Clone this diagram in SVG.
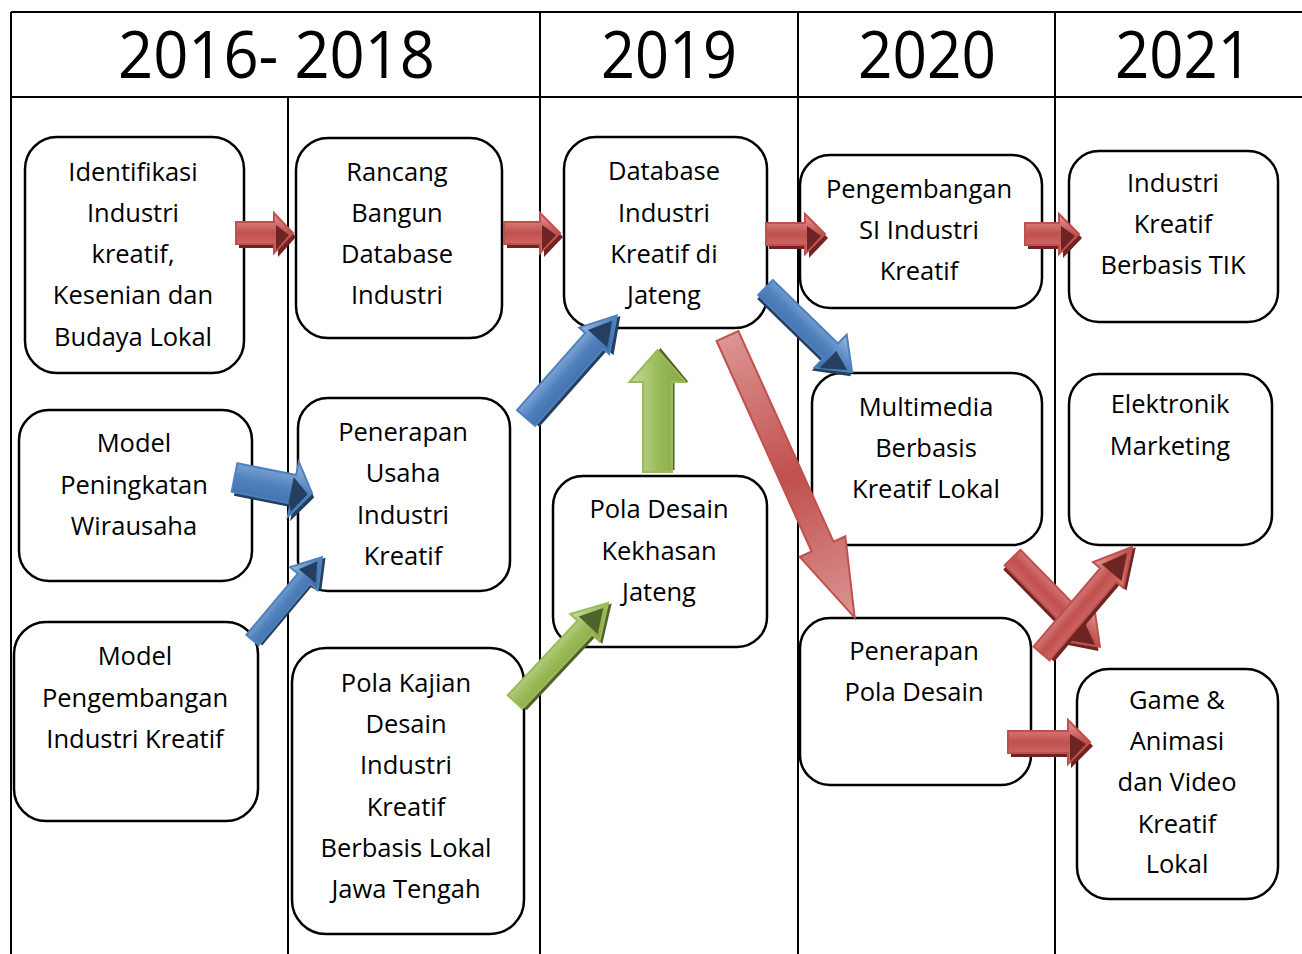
<svg xmlns="http://www.w3.org/2000/svg" width="1302" height="954" viewBox="0 0 1302 954">
<style>
.grid{stroke:#000;stroke-width:2;fill:none}
.box{fill:#fff;stroke:#000;stroke-width:2.5}
.t{font-family:"Open Sans","Noto Sans",sans-serif;font-size:25.5px;fill:#000;text-anchor:middle}
.h{font-family:"Open Sans","Noto Sans",sans-serif;font-size:66px;fill:#000;text-anchor:middle}
.rs{fill:#6e2422}.rm{fill:url(#gr);stroke:#c0504d;stroke-width:2}
.bs{fill:#243f60}.bm{fill:url(#gb);stroke:#4f81bd;stroke-width:2}
.gs{fill:#4f6228}.gm{fill:url(#gg);stroke:#9bbb59;stroke-width:2}
</style>
<defs>
<linearGradient id="gr" x1="0" y1="0" x2="0" y2="1"><stop offset="0" stop-color="#e39b99"/><stop offset="0.5" stop-color="#c0504d"/><stop offset="1" stop-color="#d77a77"/></linearGradient>
<linearGradient id="gr2" x1="0" y1="0" x2="1" y2="0"><stop offset="0" stop-color="#dc9593"/><stop offset="0.5" stop-color="#c0504d"/><stop offset="1" stop-color="#dc9593"/></linearGradient>
<linearGradient id="gb" x1="0" y1="0" x2="0" y2="1"><stop offset="0" stop-color="#9dbbe3"/><stop offset="0.5" stop-color="#4f81bd"/><stop offset="1" stop-color="#3b6aa3"/></linearGradient>
<linearGradient id="gg" x1="0" y1="0" x2="0" y2="1"><stop offset="0" stop-color="#c8dca3"/><stop offset="0.5" stop-color="#9bbb59"/><stop offset="1" stop-color="#86a648"/></linearGradient>
</defs>
<g id="grid">
<line class="grid" x1="11" y1="12" x2="1302" y2="12"/>
<line class="grid" x1="11" y1="97" x2="1302" y2="97"/>
<line class="grid" x1="11" y1="12" x2="11" y2="954"/>
<line class="grid" x1="288" y1="97" x2="288" y2="954"/>
<line class="grid" x1="540" y1="12" x2="540" y2="954"/>
<line class="grid" x1="798" y1="12" x2="798" y2="954"/>
<line class="grid" x1="1055" y1="12" x2="1055" y2="954"/>
<text class="h" x="276.5" y="78" textLength="317" lengthAdjust="spacingAndGlyphs">2016- 2018</text>
<text class="h" x="669" y="78" textLength="136" lengthAdjust="spacingAndGlyphs">2019</text>
<text class="h" x="927" y="78" textLength="138" lengthAdjust="spacingAndGlyphs">2020</text>
<text class="h" x="1183.5" y="78" textLength="137" lengthAdjust="spacingAndGlyphs">2021</text>
</g>
<g id="n1"><rect class="box" x="25" y="137" width="219" height="236" rx="32"/>
<text class="t" x="133" y="181">Identifikasi</text><text class="t" x="133" y="222">Industri</text><text class="t" x="133" y="263">kreatif,</text><text class="t" x="133" y="304">Kesenian dan</text><text class="t" x="133" y="346">Budaya Lokal</text></g>
<g id="n2"><rect class="box" x="296" y="138" width="206" height="200" rx="32"/>
<text class="t" x="397" y="181">Rancang</text><text class="t" x="397" y="222">Bangun</text><text class="t" x="397" y="263">Database</text><text class="t" x="397" y="304">Industri</text></g>
<g id="n3"><rect class="box" x="564" y="137" width="203" height="191" rx="32"/>
<text class="t" x="664" y="180">Database</text><text class="t" x="664" y="222">Industri</text><text class="t" x="664" y="263">Kreatif di</text><text class="t" x="664" y="304">Jateng</text></g>
<g id="n4"><rect class="box" x="800" y="155" width="242" height="153" rx="30"/>
<text class="t" x="919" y="198">Pengembangan</text><text class="t" x="919" y="239">SI Industri</text><text class="t" x="919" y="280">Kreatif</text></g>
<g id="n5"><rect class="box" x="1069" y="151" width="209" height="171" rx="30"/>
<text class="t" x="1173" y="192">Industri</text><text class="t" x="1173" y="233">Kreatif</text><text class="t" x="1173" y="274">Berbasis TIK</text></g>
<g id="n6"><rect class="box" x="19" y="410" width="233" height="171" rx="30"/>
<text class="t" x="134" y="452">Model</text><text class="t" x="134" y="494">Peningkatan</text><text class="t" x="134" y="535">Wirausaha</text></g>
<g id="n7"><rect class="box" x="298" y="398" width="212" height="193" rx="30"/>
<text class="t" x="403" y="441">Penerapan</text><text class="t" x="403" y="482">Usaha</text><text class="t" x="403" y="524">Industri</text><text class="t" x="403" y="565">Kreatif</text></g>
<g id="n8"><rect class="box" x="553" y="476" width="214" height="171" rx="30"/>
<text class="t" x="659" y="518">Pola Desain</text><text class="t" x="659" y="560">Kekhasan</text><text class="t" x="659" y="601">Jateng</text></g>
<g id="n9"><rect class="box" x="812" y="373" width="230" height="172" rx="30"/>
<text class="t" x="926" y="416">Multimedia</text><text class="t" x="926" y="457">Berbasis</text><text class="t" x="926" y="498">Kreatif Lokal</text></g>
<g id="n10"><rect class="box" x="1069" y="374" width="203" height="171" rx="30"/>
<text class="t" x="1170" y="413">Elektronik</text><text class="t" x="1170" y="455">Marketing</text></g>
<g id="n11"><rect class="box" x="14" y="622" width="244" height="199" rx="32"/>
<text class="t" x="135" y="665">Model</text><text class="t" x="135" y="707">Pengembangan</text><text class="t" x="135" y="748">Industri Kreatif</text></g>
<g id="n12"><rect class="box" x="292" y="648" width="232" height="286" rx="34"/>
<text class="t" x="406" y="692">Pola Kajian</text><text class="t" x="406" y="733">Desain</text><text class="t" x="406" y="774">Industri</text><text class="t" x="406" y="816">Kreatif</text><text class="t" x="406" y="857">Berbasis Lokal</text><text class="t" x="406" y="898">Jawa Tengah</text></g>
<g id="n13"><rect class="box" x="800" y="618" width="231" height="167" rx="30"/>
<text class="t" x="914" y="660">Penerapan</text><text class="t" x="914" y="701">Pola Desain</text></g>
<g id="n14"><rect class="box" x="1077" y="669" width="201" height="230" rx="32"/>
<text class="t" x="1177" y="709">Game &amp;</text><text class="t" x="1177" y="750">Animasi</text><text class="t" x="1177" y="791">dan Video</text><text class="t" x="1177" y="833">Kreatif</text><text class="t" x="1177" y="873">Lokal</text></g>
<g id="connectors">
<g transform="translate(236,233)"><path class="rs" d="M3,-7 L42,-7 L42,-16 L60,4 L42,24 L42,15 L3,15Z"/><path class="rm" d="M0,-11 L38,-11 L38,-20 L57,0 L38,20 L38,11 L0,11Z"/><path class="rs" d="M40,-8 L53,2 L40,17Z"/></g>
<g transform="translate(504,233)"><path class="rs" d="M3,-7 L40,-7 L40,-16 L59,4 L40,24 L40,15 L3,15Z"/><path class="rm" d="M0,-11 L36,-11 L36,-20 L56,0 L36,20 L36,11 L0,11Z"/><path class="rs" d="M38,-8 L52,2 L38,17Z"/></g>
<g transform="translate(766,234)"><path class="rs" d="M3,-7 L43,-7 L43,-16 L62,4 L43,24 L43,15 L3,15Z"/><path class="rm" d="M0,-11 L39,-11 L39,-20 L59,0 L39,20 L39,11 L0,11Z"/><path class="rs" d="M41,-8 L55,2 L41,17Z"/></g>
<g transform="translate(1025,234)"><path class="rs" d="M3,-7 L38,-7 L38,-16 L57,4 L38,24 L38,15 L3,15Z"/><path class="rm" d="M0,-11 L34,-11 L34,-20 L54,0 L34,20 L34,11 L0,11Z"/><path class="rs" d="M36,-8 L50,2 L36,17Z"/></g>
<g transform="translate(1008,742)"><path class="rs" d="M3,-7 L63,-7 L63,-18 L85,4 L63,26 L63,15 L3,15Z"/><path class="rm" d="M0,-11 L60,-11 L60,-22 L82,0 L60,22 L60,11 L0,11Z"/><path class="rs" d="M62,-8 L78,2 L62,19Z"/></g>
<g transform="translate(234.5,477.5) rotate(11.3)"><path class="bs" d="M3,-10 L63,-10 L63,-24 L82,4 L63,32 L63,18 L3,18Z"/><path class="bm" d="M0,-14.5 L60,-14.5 L60,-28 L79,0 L60,28 L60,14.5 L0,14.5Z"/><path class="bs" d="M58,-12 L75,2 L62,22 L58,14Z"/></g>
<g transform="translate(252.5,640) rotate(-50)"><path class="bs" d="M2,-5 L82,-5 L82,-15 L110,3 L82,21 L82,11 L2,11Z"/><path class="bm" d="M0,-8 L80,-8 L80,-18 L108,0 L80,18 L80,8 L0,8Z"/><path class="bs" d="M84,-10 L102,-1 L84,12Z"/></g>
<g transform="translate(526,418) rotate(-48.5)"><path class="bs" d="M2,-8 L105,-8 L105,-16 L139,3 L105,24 L105,16 L2,16Z"/><path class="bm" d="M0,-12 L103,-12 L103,-20 L137,0 L103,20 L103,12 L0,12Z"/><path class="bs" d="M107,-12 L130,0 L107,14Z"/></g>
<g transform="translate(765.5,287.5) rotate(44.3)"><path class="bs" d="M2,-6 L91,-6 L91,-19 L123,4 L91,27 L91,14 L2,14Z"/><path class="bm" d="M0,-10.5 L91,-10.5 L91,-23 L121,0 L91,23 L91,10.5 L0,10.5Z"/><path class="bs" d="M95,-4 L116,2 L95,20Z"/></g>
<g transform="translate(657.5,472) rotate(-90)"><path class="gs" d="M2,-11 L90,-11 L90,-25 L124,3 L90,31 L90,17 L2,17Z"/><path class="gm" d="M0,-14.5 L90,-14.5 L90,-28 L122,0 L90,28 L90,14.5 L0,14.5Z"/></g>
<g transform="translate(515,702) rotate(-46.8)"><path class="gs" d="M2,-6 L102,-6 L102,-16 L138,3 L102,24 L102,14 L2,14Z"/><path class="gm" d="M0,-10 L102,-10 L102,-20 L136,0 L102,20 L102,10 L0,10Z"/><path class="gs" d="M106,-12 L129,0 L106,14Z"/></g>
<g transform="translate(727.5,336) rotate(65.7)"><path d="M0,-12 L231,-12 L231,-25 L309,0 L231,25 L231,12 L0,12Z" fill="url(#gr2)" stroke="#c0504d" stroke-width="2"/></g>
<g transform="translate(1012.5,557.5) rotate(45.6)"><path class="rs" d="M2,-7 L95,-7 L95,-18 L127,4 L95,26 L95,15 L2,15Z"/><path class="rm" d="M0,-11 L95,-11 L95,-22 L125,0 L95,22 L95,11 L0,11Z"/><path class="rs" d="M97,-6 L120,2 L97,19Z"/></g>
<g transform="translate(1041.5,653.5) rotate(-49.6)"><path class="rs" d="M2,-7 L103,-7 L103,-16 L142,3 L103,24 L103,15 L2,15Z"/><path class="rm" d="M0,-10.5 L103,-10.5 L103,-20 L140,0 L103,20 L103,10.5 L0,10.5Z"/><path class="rs" d="M107,-12 L132,0 L107,14Z"/></g>
</g>
</svg>
